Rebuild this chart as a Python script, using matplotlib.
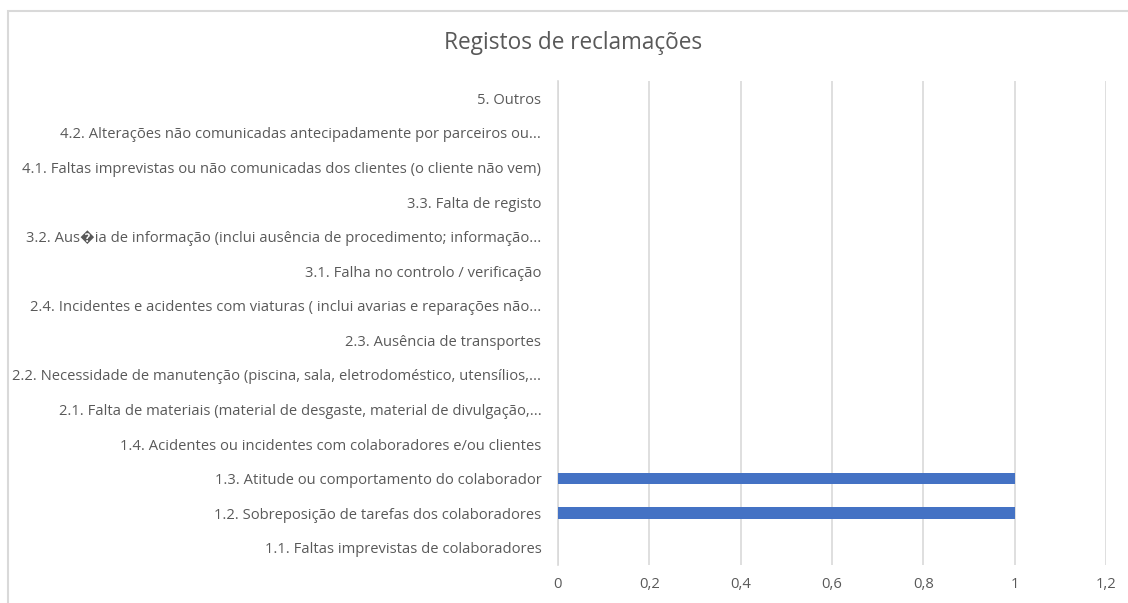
import matplotlib
matplotlib.use("Agg")
import matplotlib.pyplot as plt
from matplotlib.patches import Rectangle
from matplotlib.ticker import FuncFormatter

categories = [
    "1.1. Faltas imprevistas de colaboradores",
    "1.2. Sobreposição de tarefas dos colaboradores",
    "1.3. Atitude ou comportamento do colaborador",
    "1.4. Acidentes ou incidentes com colaboradores e/ou clientes",
    "2.1. Falta de materiais (material de desgaste, material de divulgação,...",
    "2.2. Necessidade de manutenção (piscina, sala, eletrodoméstico, utensílios,...",
    "2.3. Ausência de transportes",
    "2.4. Incidentes e acidentes com viaturas ( inclui avarias e reparações não...",
    "3.1. Falha no controlo / verificação",
    "3.2. Aus\ufffdia de informação (inclui ausência de procedimento; informação...",
    "3.3. Falta de registo",
    "4.1. Faltas imprevistas ou não comunicadas dos clientes (o cliente não vem)",
    "4.2. Alterações não comunicadas antecipadamente por parceiros ou...",
    "5. Outros",
]
values = [0, 1, 1, 0, 0, 0, 0, 0, 0, 0, 0, 0, 0, 0]
x_ticks = [0, 0.2, 0.4, 0.6, 0.8, 1.0, 1.2]

plt.rcParams['font.family'] = ['Open Sans', 'DejaVu Sans']
W, H = 1128, 603
fig = plt.figure(figsize=(W / 100, H / 100), dpi=100)

# outer chart border
fig.patches.append(Rectangle((8 / W, -0.05), 1.2, 1 - 11 / H + 0.05,
                             transform=fig.transFigure, fill=False,
                             edgecolor="#d9d9d9", linewidth=1.5))

ax = fig.add_axes([558 / W, 1 - 565 / H, (1106 - 558) / W, (565 - 81) / H])
ypos = list(range(len(categories)))
ax.barh(ypos, values, height=0.33, color="#4472C4", zorder=3)
ax.set_ylim(-0.5, len(categories) - 0.5)
ax.set_xlim(0, 1.2)
ax.set_xticks(x_ticks)
ax.xaxis.set_major_formatter(FuncFormatter(lambda v, p: ("%g" % round(v, 1)).replace(".", ",")))
ax.set_yticks(ypos)
ax.set_yticklabels(categories)
ax.grid(axis="x", color="#d9d9d9", linewidth=1.2, zorder=0)
for s in ["top", "right", "bottom"]:
    ax.spines[s].set_visible(False)
ax.spines["left"].set_color("#d9d9d9")
ax.spines["left"].set_linewidth(1.2)
ax.tick_params(axis="both", length=0, colors="#595959", labelsize=10.6)
ax.tick_params(axis="y", pad=12)
ax.tick_params(axis="x", pad=8.5)

fig.text(573 / W, 1 - 43 / H, "Registos de reclamações", ha="center", va="center",
         fontsize=16.3, color="#595959")

fig.savefig("out.png", dpi=100)
